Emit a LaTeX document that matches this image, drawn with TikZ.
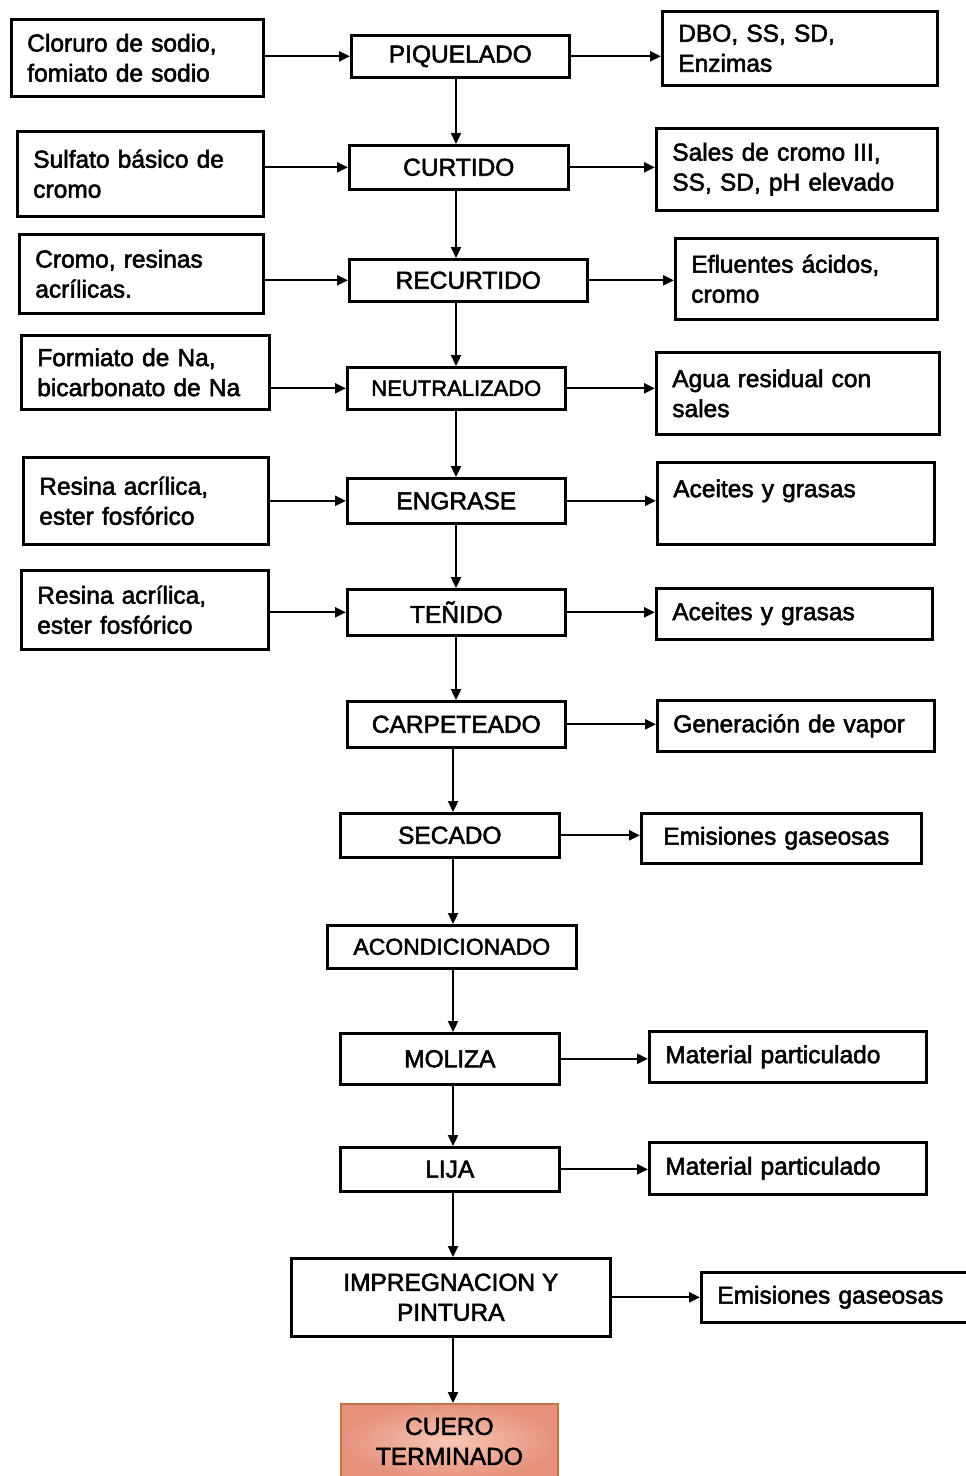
\documentclass[tikz,border=0pt]{standalone}
\usepackage{fontspec}
\setmainfont{Liberation Sans}[UprightFeatures={FakeBold=2.2}]
\usetikzlibrary{arrows.meta}
\definecolor{salmonout}{RGB}{229,145,124}
\definecolor{salmonin}{RGB}{248,198,182}
\definecolor{salmonedge}{RGB}{196,116,72}
\begin{document}
\begin{tikzpicture}[x=1pt,y=-1pt,
  every node/.style={font=\fontsize{24.5}{30}\selectfont},
  box/.style={draw, line width=2.6pt, rectangle, anchor=north west, inner ysep=0pt, inner xsep=16pt, align=left},
  proc/.style={draw, line width=2.6pt, rectangle, anchor=north west, inner sep=0pt, align=center},
  arr/.style={line width=2.3pt, -{Triangle[length=11pt,width=10pt]}},
  final/.style={proc, draw=salmonedge, line width=1.8pt, inner color=salmonin, outer color=salmonout}
]
\useasboundingbox (0,0) rectangle (966,1476);
\fill[white] (0,0) rectangle (966,1476);

% left inputs
\node[box, minimum height=77pt, text width=220pt] (l1) at (10,18) {Cloruro de sodio,\\fomiato de sodio};
\node[box, minimum height=85pt, text width=214pt] (l2) at (16,130) {Sulfato básico de\\cromo};
\node[box, minimum height=79pt, text width=212pt] (l3) at (18,233) {Cromo, resinas\\acrílicas.};
\node[box, minimum height=74pt, text width=216pt] (l4) at (20,334) {Formiato de Na,\\bicarbonato de Na};
\node[box, minimum height=87pt, text width=213pt] (l5) at (22,456) {Resina acrílica,\\ester fosfórico};
\node[box, minimum height=79pt, text width=215pt] (l6) at (20,569) {Resina acrílica,\\ester fosfórico};

% process column
\node[proc, minimum width=218pt, minimum height=42pt] (c1) at (350,34) {PIQUELADO};
\node[proc, minimum width=219pt, minimum height=44pt] (c2) at (348,144) {CURTIDO};
\node[proc, minimum width=238pt, minimum height=42pt] (c3) at (348,258) {RECURTIDO};
\node[proc, minimum width=218pt, minimum height=42pt, font=\fontsize{22}{27}\selectfont] (c4) at (346,366) {NEUTRALIZADO};
\node[proc, minimum width=218pt, minimum height=45pt] (c5) at (346,477) {ENGRASE};
\node[proc, minimum width=218pt, minimum height=46pt] (c6) at (346,588) {TEÑIDO};
\node[proc, minimum width=218pt, minimum height=46pt] (c7) at (346,700) {CARPETEADO};
\node[proc, minimum width=219pt, minimum height=44pt] (c8) at (339,812) {SECADO};
\node[proc, minimum width=249pt, minimum height=43pt, font=\fontsize{23}{28}\selectfont] (c9) at (326,924) {ACONDICIONADO};
\node[proc, minimum width=219pt, minimum height=51pt] (c10) at (339,1032) {MOLIZA};
\node[proc, minimum width=219pt, minimum height=44pt] (c11) at (339,1146) {LIJA};
\node[proc, minimum width=319pt, minimum height=78pt] (c12) at (290,1257) {IMPREGNACION Y\\PINTURA};
\node[final, minimum width=217pt, minimum height=75pt] (c13) at (340,1403) {CUERO\\TERMINADO};

% right outputs
\node[box, minimum height=74pt, text width=243pt] (r1) at (661,10) {DBO, SS, SD,\\Enzimas};
\node[box, minimum height=82pt, text width=249pt] (r2) at (655,127) {Sales de cromo III,\\SS, SD, pH elevado};
\node[box, minimum height=81pt, text width=230pt] (r3) at (674,237) {Efluentes ácidos,\\cromo};
\node[box, minimum height=82pt, text width=251pt] (r4) at (655,351) {Agua residual con\\sales};
\node[box, minimum height=82pt, text width=245pt] (r5) at (656,461) {Aceites y grasas\\\mbox{}};
\node[box, minimum height=51pt, text width=244pt] (r6) at (655,587) {Aceites y grasas};
\node[box, minimum height=51pt, text width=245pt] (r7) at (656,699) {Generación de vapor};
\node[box, minimum height=50pt, text width=236pt, inner xsep=22pt] (r8) at (640,812) {Emisiones gaseosas};
\node[box, minimum height=51pt, text width=245pt] (r10) at (648,1030) {Material particulado};
\node[box, minimum height=52pt, text width=245pt] (r11) at (648,1141) {Material particulado};
\node[box, minimum height=50pt, text width=242pt] (r12) at (700,1271) {Emisiones gaseosas};

% vertical flow
\coordinate (xa) at (456,0);
\coordinate (xb) at (453,0);
\draw[arr] (c1.south -| xa) -- (c2.north -| xa);
\draw[arr] (c2.south -| xa) -- (c3.north -| xa);
\draw[arr] (c3.south -| xa) -- (c4.north -| xa);
\draw[arr] (c4.south -| xa) -- (c5.north -| xa);
\draw[arr] (c5.south -| xa) -- (c6.north -| xa);
\draw[arr] (c6.south -| xa) -- (c7.north -| xa);
\draw[arr] (c7.south -| xb) -- (c8.north -| xb);
\draw[arr] (c8.south -| xb) -- (c9.north -| xb);
\draw[arr] (c9.south -| xb) -- (c10.north -| xb);
\draw[arr] (c10.south -| xb) -- (c11.north -| xb);
\draw[arr] (c11.south -| xb) -- (c12.north -| xb);
\draw[arr] (c12.south -| xb) -- (c13.north -| xb);

% inputs
\draw[arr] (l1.east |- c1.west) -- (c1.west);
\draw[arr] (l2.east |- c2.west) -- (c2.west);
\draw[arr] (l3.east |- c3.west) -- (c3.west);
\draw[arr] (l4.east |- c4.west) -- (c4.west);
\draw[arr] (l5.east |- c5.west) -- (c5.west);
\draw[arr] (l6.east |- c6.west) -- (c6.west);

% outputs
\draw[arr] (c1.east) -- (r1.west |- c1.east);
\draw[arr] (c2.east) -- (r2.west |- c2.east);
\draw[arr] (c3.east) -- (r3.west |- c3.east);
\draw[arr] (c4.east) -- (r4.west |- c4.east);
\draw[arr] (c5.east) -- (r5.west |- c5.east);
\draw[arr] (c6.east) -- (r6.west |- c6.east);
\draw[arr] (c7.east) -- (r7.west |- c7.east);
\draw[arr] (c8.east) -- (r8.west |- c8.east);
\draw[arr] (c10.east) -- (r10.west |- c10.east);
\draw[arr] (c11.east) -- (r11.west |- c11.east);
\draw[arr] (c12.east) -- (r12.west |- c12.east);
\end{tikzpicture}
\end{document}
